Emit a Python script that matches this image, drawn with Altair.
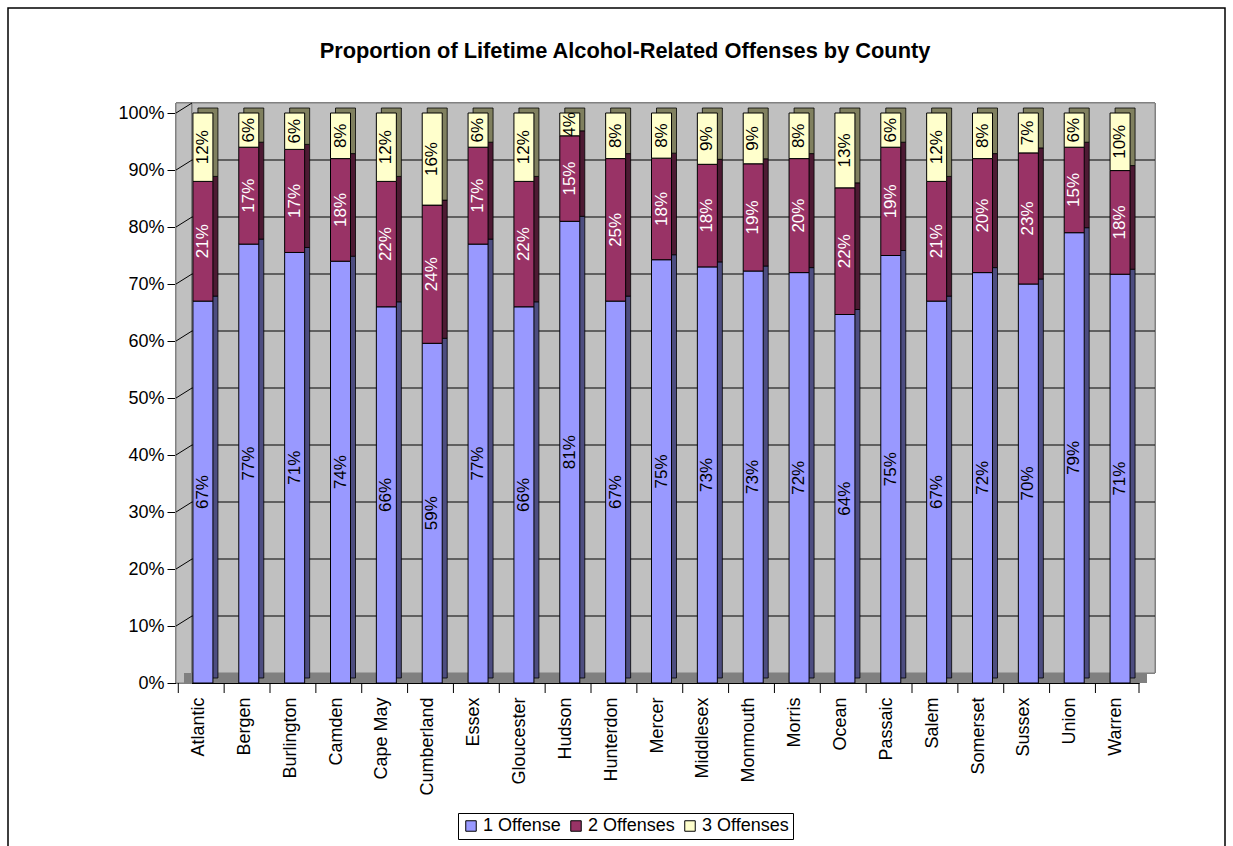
import altair as alt
import pandas as pd

counties = ["Atlantic", "Bergen", "Burlington", "Camden", "Cape May", "Cumberland",
            "Essex", "Gloucester", "Hudson", "Hunterdon", "Mercer", "Middlesex",
            "Monmouth", "Morris", "Ocean", "Passaic", "Salem", "Somerset",
            "Sussex", "Union", "Warren"]
one_offense = [67, 77, 71, 74, 66, 59, 77, 66, 81, 67, 75, 73, 73, 72, 64, 75, 67, 72, 70, 79, 71]
two_offenses = [21, 17, 17, 18, 22, 24, 17, 22, 15, 25, 18, 18, 19, 20, 22, 19, 21, 20, 23, 15, 18]
three_offenses = [12, 6, 6, 8, 12, 16, 6, 12, 4, 8, 8, 9, 9, 8, 13, 6, 12, 8, 7, 6, 10]
series = ["1 Offense", "2 Offenses", "3 Offenses"]
y_ticks = [0, 0.1, 0.2, 0.3, 0.4, 0.5, 0.6, 0.7, 0.8, 0.9, 1.0]
title_text = "Proportion of Lifetime Alcohol-Related Offenses by County"

rows = []
for i, c in enumerate(counties):
    for k, (s, vals) in enumerate(zip(series, [one_offense, two_offenses, three_offenses]), start=1):
        rows.append({"county": c, "series": s, "k": k, "value": vals[i]})
df = pd.DataFrame(rows)
ticks_df = pd.DataFrame({"t": y_ticks})
cat_df = pd.DataFrame({"county": counties})
title_df = pd.DataFrame({"title": [title_text]})

W, H = 963, 570
DX, DY = 16, 10
FONT = "Arial, Liberation Sans, sans-serif"

front_colors = ["#9999FF", "#993366", "#FFFFCC"]
side_colors = ["#4D4D80", "#4D1A33", "#80805F"]

yscale = alt.Scale(domain=[0, 1], nice=False)
xsort = counties

x_axis = alt.Axis(labelAngle=270, labelFontSize=18, labelFont=FONT, labelColor="black",
                  ticks=False, domainColor="black", domainWidth=1, labelPadding=14,
                  labelAlign="right", labelBaseline="middle", title=None)
y_axis = alt.Axis(values=y_ticks, format=".0%", labelFontSize=18, labelFont=FONT,
                  labelColor="black", tickColor="black", tickSize=9, domainColor="black",
                  labelPadding=3, grid=False, title=None)


def X(field="county:N", **kw):
    return alt.X(field, sort=xsort, axis=x_axis, title=None, **kw)


def Y(field):
    return alt.Y(field, scale=yscale, axis=y_axis, title=None)


# Walls
side_wall = alt.Chart(ticks_df).mark_rect(fill="#C0C0C0", stroke="#808080", strokeWidth=1).encode(
    x=alt.value(0), x2=alt.value(DX), y=alt.value(-DY), y2=alt.value(H))
back_wall = alt.Chart(ticks_df).mark_rect(fill="#C0C0C0", stroke="#808080", strokeWidth=1).encode(
    x=alt.value(DX), x2=alt.value(W + DX), y=alt.value(-DY), y2=alt.value(H - DY))
floor = alt.Chart(ticks_df).mark_rect(fill="#808080").encode(
    x=alt.value(DX / 2), x2=alt.value(W + DX / 2), y=alt.value(H - DY), y2=alt.value(H))

grid = alt.Chart(ticks_df).transform_filter("datum.t > 0 && datum.t < 1").mark_rule(
    color="black", strokeWidth=1, yOffset=-DY).encode(
    y=Y("t:Q"), x=alt.value(DX), x2=alt.value(W + DX))
diag = alt.Chart(ticks_df).transform_filter("datum.t > 0").mark_rule(
    color="black", strokeWidth=1, y2Offset=-DY).encode(
    y=Y("t:Q"), y2="t:Q", x=alt.value(0), x2=alt.value(DX))

base = alt.Chart(df).transform_stack(
    stack="value", groupby=["county"], as_=["v0", "v1"], offset="normalize",
    sort=[alt.SortField("k", order="ascending")]
).transform_calculate(mid="(datum.v0 + datum.v1) / 2", lab="datum.value + '%'")

side = base.mark_bar(size=20, xOffset=9, yOffset=-5, y2Offset=-5, stroke="black", strokeWidth=0.8).encode(
    x=X(),
    y=Y("v1:Q"),
    y2="v0:Q",
    color=alt.Color("series:N", scale=alt.Scale(domain=series, range=side_colors), legend=None),
)

front = base.mark_bar(size=20, xOffset=4, stroke="black", strokeWidth=1).encode(
    x=X(),
    y=Y("v1:Q"),
    y2="v0:Q",
    color=alt.Color("series:N", scale=alt.Scale(domain=series, range=front_colors),
                    legend=alt.Legend(title=None, orient="none", legendX=282, legendY=700,
                                      direction="horizontal", labelFontSize=18, labelFont=FONT,
                                      labelColor="black", symbolType="square", symbolSize=110,
                                      symbolStrokeColor="black", symbolStrokeWidth=1,
                                      strokeColor="black", fillColor="white", padding=4,
                                      columnPadding=6, labelOffset=3)),
)

labels = base.mark_text(angle=270, fontSize=17, font=FONT, xOffset=4, align="center",
                        baseline="middle").encode(
    x=X(),
    y=Y("mid:Q"),
    text="lab:N",
    color=alt.condition("datum.k == 2", alt.value("white"), alt.value("black")),
)

xticks = alt.Chart(cat_df).mark_rule(color="black", strokeWidth=1).encode(
    x=X(bandPosition=0),
    y=alt.value(H), y2=alt.value(H + 10))
xtick_end = alt.Chart(ticks_df).transform_filter("datum.t == 0").mark_rule(
    color="black", strokeWidth=1).encode(x=alt.value(W), y=alt.value(H), y2=alt.value(H + 10))

border = alt.Chart(ticks_df).transform_filter("datum.t == 0").mark_rect(
    filled=False, stroke="black", strokeWidth=1.5).encode(
    x=alt.value(8 - 176), x2=alt.value(1225 - 176), y=alt.value(8 - 113), y2=alt.value(760))

title = alt.Chart(title_df).mark_text(fontSize=21.8, font=FONT, fontWeight="bold", color="black",
                                      align="center", baseline="alphabetic").encode(
    text="title:N", x=alt.value(625 - 176), y=alt.value(58 - 113))

chart = alt.layer(
    border, side_wall, back_wall, floor, grid, diag, side, front, labels, xticks, xtick_end, title
).resolve_scale(color="independent").properties(
    width=W, height=H,
    autosize=alt.AutoSizeParams(type="none"),
    padding={"left": 176, "top": 113, "right": 94, "bottom": 163},
).configure_view(stroke=None).configure(background="white")

chart.save("out.html", embed_options={"renderer": "svg", "actions": False})
